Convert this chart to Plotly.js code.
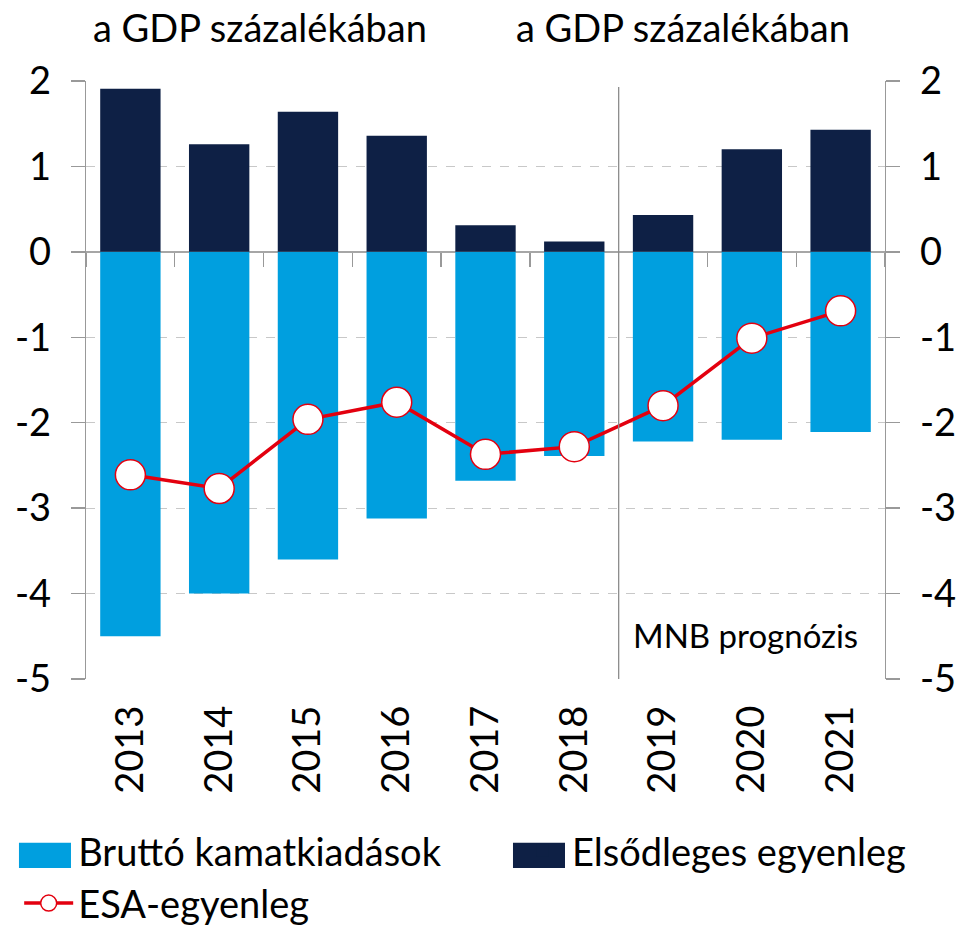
<!DOCTYPE html>
<html>
<head>
<meta charset="utf-8">
<script src="https://cdn.plot.ly/plotly-3.0.1.min.js"></script>
<style>html,body{margin:0;padding:0;background:#fff;}#chart{width:959px;height:926px;}</style>
</head>
<body>
<div id="chart"></div>
<script>
const years = ['2013','2014','2015','2016','2017','2018','2019','2020','2021'];
const interest = [-4.5, -4.0, -3.6, -3.12, -2.68, -2.39, -2.22, -2.2, -2.11];
const primary = [1.91, 1.26, 1.64, 1.36, 0.31, 0.12, 0.43, 1.2, 1.43];
const esa = [-2.61, -2.77, -1.96, -1.76, -2.37, -2.28, -1.8, -1.01, -0.69];
const yTicks = [-5, -4, -3, -2, -1, 0, 1, 2];
const seriesNames = ['Bruttó kamatkiadások', 'Elsődleges egyenleg', 'ESA-egyenleg'];
const unitLabel = 'a GDP százalékában';
const forecastLabel = 'MNB prognózis';

const FONT = 'Lato, "Open Sans", sans-serif';
const fs = 38;
const COL_INT = '#009FDF';
const COL_PRI = '#0E2045';
const COL_ESA = '#E3000F';

const traces = [
  {type:'bar', x:years, y:interest, name:seriesNames[0], marker:{color:COL_INT, line:{width:0}}, hoverinfo:'skip', legend:'legend'},
  {type:'bar', x:years, y:primary, name:seriesNames[1], marker:{color:COL_PRI, line:{width:0}}, hoverinfo:'skip', legend:'legend2'},
  {type:'scatter', mode:'lines+markers', x:years, y:esa, name:seriesNames[2],
   line:{color:COL_ESA, width:3.5},
   marker:{size:30, color:'#ffffff', line:{color:COL_ESA, width:1.5}}, hoverinfo:'skip', legend:'legend'},
  {type:'scatter', x:years, y:years.map(()=>null), xaxis:'x2', yaxis:'y2', showlegend:false, hoverinfo:'skip'}
];

const axisCommon = {
  range:[-5,2], tickvals:yTicks, ticktext:yTicks.map(String),
  ticks:'outside', ticklen:14, tickcolor:'#999999', tickwidth:1.3,
  showline:true, linecolor:'#999999', linewidth:1.3,
  tickfont:{family:FONT, size:fs, color:'#000'},
  fixedrange:true, automargin:false
};

const legendFont = {family:FONT, size:fs, color:'#000'};
const catRange = [-0.5, years.length - 0.5];

const layout = {
  width:959, height:926,
  margin:{l:86, r:74, t:81, b:247, autoexpand:false},
  paper_bgcolor:'#fff', plot_bgcolor:'#fff',
  barmode:'relative', bargap:0.32,
  showlegend:true,
  legend:{orientation:'v', xref:'container', yref:'container', x:0.02, xanchor:'left', y:0.115, yanchor:'top',
          font:legendFont, traceorder:'normal', itemwidth:49, tracegroupgap:0, bgcolor:'rgba(0,0,0,0)'},
  legend2:{orientation:'v', xref:'container', yref:'container', x:0.535, xanchor:'left', y:0.115, yanchor:'top',
          font:legendFont, itemwidth:49, bgcolor:'rgba(0,0,0,0)'},
  xaxis:{type:'category', range:catRange, autorange:false, tickangle:-90, ticks:'', showgrid:false, showline:false, zeroline:false, automargin:false,
         tickfont:{family:FONT, size:fs, color:'#000'}, ticklabelstandoff:18},
  xaxis2:{type:'category', overlaying:'x', range:catRange, autorange:false, anchor:'free', position:5/7, side:'bottom',
          ticks:'outside', tickson:'boundaries', ticklen:14, tickcolor:'#999999', tickwidth:1.3,
          showticklabels:false, showgrid:false, showline:false, zeroline:false, automargin:false},
  yaxis:Object.assign({}, axisCommon, {side:'left', showgrid:true, gridcolor:'#c8c8c8', griddash:'dash', gridwidth:1,
          zeroline:true, zerolinecolor:'#a6a6a6', zerolinewidth:1.5, ticklabelstandoff:12}),
  yaxis2:Object.assign({}, axisCommon, {side:'right', overlaying:'y', anchor:'x2', showgrid:false, zeroline:false, ticklabelstandoff:12}),
  shapes:[
    {type:'line', xref:'x', yref:'paper', x0:5.5, x1:5.5, y0:0, y1:0.99, line:{color:'#8c8c8c', width:1.3}},
    {type:'rect', xref:'paper', yref:'paper', x0:-0.0839, x1:-0.0188, y0:-0.316, y1:-0.274, fillcolor:COL_INT, line:{width:0}, layer:'above'},
    {type:'rect', xref:'paper', yref:'paper', x0:0.5344, x1:0.5995, y0:-0.316, y1:-0.274, fillcolor:COL_PRI, line:{width:0}, layer:'above'}
  ],
  annotations:[
    {text:unitLabel, xref:'paper', yref:'paper', x:0.218, y:1, yshift:54, showarrow:false,
     font:{family:FONT, size:fs, color:'#000'}, xanchor:'center', yanchor:'middle'},
    {text:unitLabel, xref:'paper', yref:'paper', x:0.747, y:1, yshift:54, showarrow:false,
     font:{family:FONT, size:fs, color:'#000'}, xanchor:'center', yanchor:'middle'},
    {text:forecastLabel, xref:'paper', yref:'paper', x:0.826, y:0.073, showarrow:false,
     font:{family:FONT, size:33, color:'#000'}, xanchor:'center', yanchor:'middle'}
  ]
};

Plotly.newPlot('chart', traces, layout, {displayModeBar:false, staticPlot:true});
</script>
</body>
</html>
